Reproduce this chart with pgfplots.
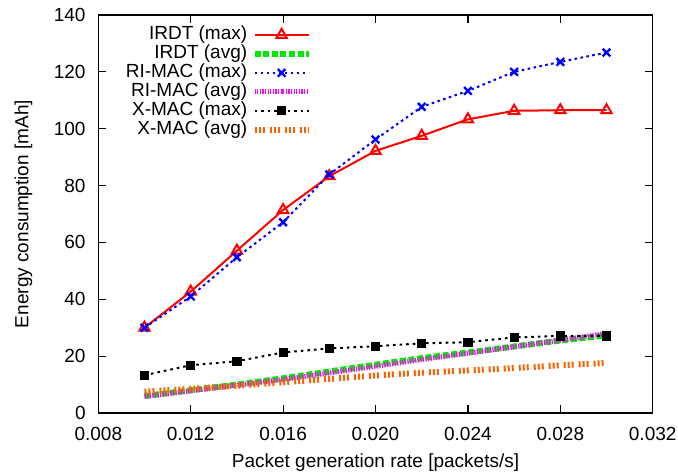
\documentclass[border=0pt]{standalone}
\usepackage{fontspec}
\setmainfont{Liberation Sans}
\usepackage{pgfplots}
\pgfplotsset{compat=1.18}
\definecolor{cgreen}{RGB}{0,235,0}
\definecolor{cmag}{RGB}{255,0,255}
\definecolor{corange}{RGB}{255,96,0}
\begin{document}
\fontsize{9.5bp}{11bp}\selectfont
\begin{tikzpicture}
\begin{axis}[
  scale only axis, width=277.2bp, height=199bp,
  xmin=0.008, xmax=0.032, ymin=0, ymax=140,
  xtick={0.008,0.012,0.016,0.020,0.024,0.028,0.032},
  ytick={0,20,40,60,80,100,120,140},
  scaled x ticks=false,
  xticklabel style={yshift=-3.9bp, /pgf/number format/.cd, fixed, fixed zerofill, precision=3, assume math mode=true},
  yticklabel style={xshift=-3bp, /pgf/number format/assume math mode=true},
  tick align=inside, major tick length=4bp,
  axis line style={line width=0.6bp}, every tick/.style={black, line width=0.6bp},
  xlabel={Packet generation rate [packets/s]},
  ylabel={Energy consumption [mAh]},
  xlabel style={at={(axis description cs:0.5,-0.1357)}, anchor=base},
  ylabel style={at={(axis description cs:-0.135,0.5)}, anchor=center},
  legend plot pos=right, legend cell align=right,
  legend style={draw=none, fill=none, inner sep=0pt, column sep=2.2bp,
    at={(axis description cs:0.3855,0.975)}, anchor=north east,
    nodes={inner sep=0pt, text height=7bp, text depth=2.5bp}},
  legend image code/.code={\draw[mark repeat=2,mark phase=2] plot coordinates {(0bp,0bp)(13.5bp,0bp)(27bp,0bp)};},
]
\addplot[red, line width=1bp, mark=triangle, mark size=3bp, mark options={solid, line width=1bp}] coordinates {
(0.010,30.0)(0.012,42.7)(0.014,57.1)(0.016,71.4)(0.018,83.3)(0.020,92.2)(0.022,97.5)(0.024,103.3)(0.026,106.3)(0.028,106.5)(0.030,106.5)};
\addlegendentry{IRDT (max)}
\addplot[cgreen, line width=3bp, dash pattern=on 3bp off 1.3bp] coordinates {
(0.010,6.0)(0.012,8.0)(0.014,10.0)(0.016,12.2)(0.018,14.6)(0.020,17.0)(0.022,19.3)(0.024,21.3)(0.026,23.4)(0.028,25.5)(0.030,27.3)};
\addlegendentry{IRDT (avg)}
\addplot[blue, line width=1bp, dash pattern=on 1.3bp off 1.7bp, mark=x, mark size=2.7bp, mark options={solid, line width=1.2bp}] coordinates {
(0.010,30.0)(0.012,41.0)(0.014,54.8)(0.016,67.1)(0.018,83.9)(0.020,96.2)(0.022,107.7)(0.024,113.3)(0.026,120.0)(0.028,123.5)(0.030,126.8)};
\addlegendentry{RI-MAC (max)}
\addplot[cmag, line width=2.5bp, dash pattern=on 0.6bp off 0.7bp] coordinates {
(0.010,5.8)(0.012,7.8)(0.014,9.8)(0.016,11.8)(0.018,14.1)(0.020,16.4)(0.022,18.8)(0.024,21.0)(0.026,23.3)(0.028,25.6)(0.030,28.0)};
\addlegendentry{RI-MAC (avg)}
\addplot[black, line width=1bp, dash pattern=on 1.3bp off 2bp, mark=square*, mark size=1.8bp, mark options={solid}] coordinates {
(0.010,13.3)(0.012,16.8)(0.014,18.2)(0.016,21.3)(0.018,22.7)(0.020,23.5)(0.022,24.5)(0.024,24.9)(0.026,26.6)(0.028,27.1)(0.030,27.1)};
\addlegendentry{X-MAC (max)}
\addplot[corange, line width=3bp, dash pattern=on 1bp off 1bp on 1bp off 1bp on 1bp off 2.5bp] coordinates {
(0.010,7.5)(0.012,8.5)(0.014,9.6)(0.016,10.8)(0.018,12.0)(0.020,13.2)(0.022,14.2)(0.024,15.0)(0.026,15.8)(0.028,16.8)(0.030,17.6)};
\addlegendentry{X-MAC (avg)}
\end{axis}
\pgfresetboundingbox
\path[use as bounding box] (-49.15bp,-31.5bp) rectangle (289.85bp,206.5bp);
\end{tikzpicture}
\end{document}
